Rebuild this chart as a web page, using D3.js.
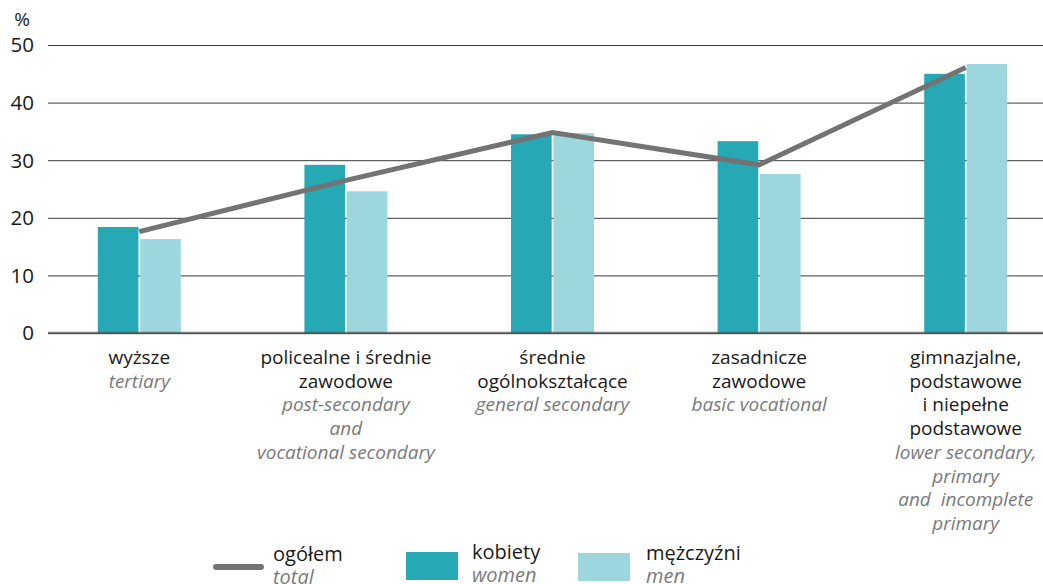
<!DOCTYPE html>
<html>
<head>
<meta charset="utf-8">
<script src="https://cdn.jsdelivr.net/npm/d3@7"></script>
<style>
  body { margin: 0; background: #fff; }
  text { font-family: "Open Sans", "Noto Sans", sans-serif; }
</style>
</head>
<body>
<div id="chart"></div>
<script>
// data
const categoriesPl = [
    ["wyższe"],
    ["policealne i średnie", "zawodowe"],
    ["średnie", "ogólnokształcące"],
    ["zasadnicze", "zawodowe"],
    ["gimnazjalne,", "podstawowe", "i niepełne", "podstawowe"]
]
const categoriesEn = [
    ["tertiary"],
    ["post-secondary", "and", "vocational secondary"],
    ["general secondary"],
    ["basic vocational"],
    ["lower secondary,", "primary", "and  incomplete", "primary"]
]
const women = [18.4, 29.2, 34.5, 33.3, 45.0]
const men = [16.3, 24.6, 34.7, 27.6, 46.7]
const total = [17.6, 26.5, 34.8, 29.2, 46.1]
const yTicks = [0, 10, 20, 30, 40, 50]
const seriesNames = ["women", "men"]

const width = 1043, height = 584
const plotLeft = 48, plotRight = 1043
const colWomen = "#26a8b5", colMen = "#9dd6dd", colTotal = "#737373"

let svg = d3.select("#chart").append("svg")
    .attr("width", width)
    .attr("height", height)

//scales
let idx = d3.range(categoriesPl.length)
let x0 = d3.scaleBand().domain(idx).range([36, 1069])
let x1 = d3.scaleBand().domain(seriesNames).range([x0.bandwidth() / 2 - 41.5, x0.bandwidth() / 2 + 41.5]).paddingInner(0.04)
let y = d3.scaleLinear().domain([0, 50]).range([333, 45])

//grid lines
let yAxis = d3.axisLeft(y).tickValues(yTicks).tickSize(-(plotRight - plotLeft))
let gy = svg.append("g")
    .attr("transform", `translate(${plotLeft},0)`)
    .call(yAxis)
gy.select(".domain").remove()
gy.selectAll(".tick line").attr("stroke", "#3a3a3a").attr("stroke-width", 1)
gy.selectAll(".tick text")
    .attr("fill", "#1a1a1a")
    .style("font-size", "20.5px")
    .attr("x", -14)
    .attr("dy", "0.34em")

svg.append("text")
    .attr("x", 22).attr("y", 26)
    .attr("text-anchor", "middle")
    .style("font-size", "19px")
    .attr("fill", "#1a1a1a")
    .text("%")

//bars
let groups = svg.selectAll(".grp")
    .data(idx)
    .enter().append("g")
    .attr("class", "grp")
    .attr("transform", d => `translate(${x0(d)},0)`)

groups.append("rect")
    .attr("x", x1("women"))
    .attr("width", x1.bandwidth())
    .attr("y", d => y(women[d]))
    .attr("height", d => y(0) - y(women[d]))
    .attr("fill", colWomen)

groups.append("rect")
    .attr("x", x1("men"))
    .attr("width", x1.bandwidth())
    .attr("y", d => y(men[d]))
    .attr("height", d => y(0) - y(men[d]))
    .attr("fill", colMen)

//baseline
svg.append("line")
    .attr("x1", plotLeft).attr("x2", plotRight)
    .attr("y1", y(0)).attr("y2", y(0))
    .attr("stroke", "#555")
    .attr("stroke-opacity", 0.75)
    .attr("stroke-width", 2.5)

//total line
let line = d3.line()
    .x((d, i) => x0(i) + x0.bandwidth() / 2)
    .y(d => y(d))
svg.append("path")
    .datum(total)
    .attr("d", line)
    .attr("fill", "none")
    .attr("stroke", colTotal)
    .attr("stroke-width", 5)

//category labels
const lineH = 23.7
groups.each(function (d) {
    let g = d3.select(this)
    let cx = x0.bandwidth() / 2
    let lines = categoriesPl[d].map(t => ({ t, en: false }))
        .concat(categoriesEn[d].map(t => ({ t, en: true })))
    g.selectAll("text.lbl")
        .data(lines)
        .enter().append("text")
        .attr("class", "lbl")
        .attr("x", cx)
        .attr("y", (l, i) => 364 + i * lineH)
        .attr("text-anchor", "middle")
        .style("font-size", "19px")
        .style("font-style", l => l.en ? "italic" : "normal")
        .attr("fill", l => l.en ? "#7a7a7a" : "#1a1a1a")
        .style("white-space", "pre")
        .text(l => l.t)
})

//legend
let legend = svg.append("g")
legend.append("line")
    .attr("x1", 216).attr("x2", 261)
    .attr("y1", 567).attr("y2", 567)
    .attr("stroke", colTotal)
    .attr("stroke-width", 6)
    .attr("stroke-linecap", "round")
legend.append("rect")
    .attr("x", 406).attr("y", 552)
    .attr("width", 52).attr("height", 28)
    .attr("fill", colWomen)
legend.append("rect")
    .attr("x", 578).attr("y", 553)
    .attr("width", 52).attr("height", 28)
    .attr("fill", colMen)

const legendItems = [
    { pl: "ogółem", en: "total", x: 273, y: 561 },
    { pl: "kobiety", en: "women", x: 472, y: 559 },
    { pl: "mężczyźni", en: "men", x: 646, y: 560 }
]
legendItems.forEach(l => {
    legend.append("text")
        .attr("x", l.x).attr("y", l.y)
        .style("font-size", "20px")
        .attr("fill", "#1a1a1a")
        .text(l.pl)
    legend.append("text")
        .attr("x", l.x).attr("y", l.y + 23)
        .style("font-size", "20px")
        .style("font-style", "italic")
        .attr("fill", "#7a7a7a")
        .text(l.en)
})
</script>
</body>
</html>
